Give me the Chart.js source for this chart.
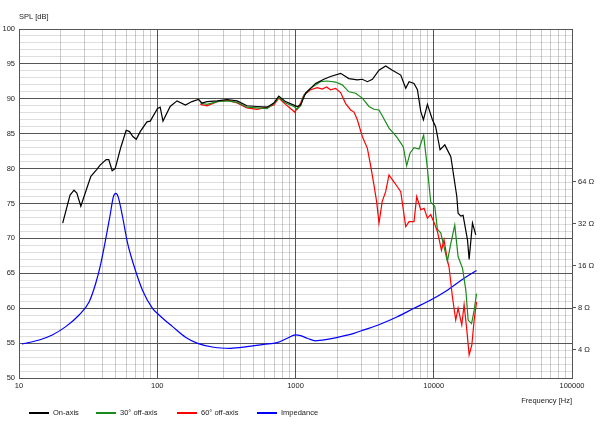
<!DOCTYPE html>
<html>
<head>
<meta charset="utf-8">
<script src="https://cdn.jsdelivr.net/npm/chart.js@4/dist/chart.umd.min.js"></script>
<style>
  html, body { margin: 0; padding: 0; background: #fff; }
  #wrap { width: 600px; height: 425px; }
</style>
</head>
<body>
<div id="wrap"><canvas id="splChart" width="600" height="425"></canvas></div>
<script>
// on-axis SPL
const onAxisFreq = [20.7, 23.4, 25, 26.2, 28, 30.6, 33.1, 36.6, 38.6, 42.7, 44.6, 47.2, 49.6, 54.6, 59.6, 63, 66.6, 70.5, 75.3, 84.2, 89, 100.5, 105, 110, 124, 139, 160, 178, 199, 210, 229, 271, 320, 378, 446, 527, 623, 697, 757, 847, 973, 1029, 1089, 1182, 1285, 1396, 1604, 1793, 2120, 2433, 2800, 3043, 3311, 3600, 4018, 4490, 5020, 5770, 6270, 6630, 7200, 7620, 8050, 8420, 9000, 9780, 10320, 11110, 12020, 13290, 14680, 15000, 15700, 16300, 17540, 18030, 19060, 20140]
const onAxisSpl = [72.2, 76.2, 76.9, 76.5, 74.6, 76.9, 78.9, 79.9, 80.5, 81.3, 81.3, 79.7, 80, 83.1, 85.5, 85.3, 84.6, 84.2, 85.3, 86.7, 86.8, 88.6, 88.8, 86.8, 88.9, 89.7, 89.1, 89.6, 89.9, 89.4, 89.6, 89.7, 89.9, 89.7, 89, 88.9, 88.8, 89.4, 90.4, 89.6, 89.1, 88.9, 89.1, 90.8, 91.5, 92.2, 92.8, 93.2, 93.65, 92.9, 92.7, 92.8, 92.45, 92.8, 94.1, 94.7, 94.1, 93.4, 91.5, 92.45, 92.2, 91.3, 88.2, 87, 89.2, 87, 86, 82.7, 83.4, 81.7, 76, 73.6, 73.2, 73.3, 69.8, 67, 72.2, 70.5]

// 30 deg off-axis SPL
const off30Freq = [205, 229, 271, 320, 378, 446, 527, 623, 697, 757, 847, 973, 1029, 1089, 1148, 1285, 1517, 1698, 1950, 2180, 2433, 2720, 3043, 3400, 3690, 4018, 4400, 4745, 5150, 5455, 6025, 6370, 6730, 7200, 7830, 8450, 9000, 9510, 10170, 10630, 11240, 12550, 13290, 14190, 15000, 16150, 17060, 17730, 18770, 19600, 20400]
const off30Spl = [89.4, 89.2, 89.6, 89.7, 89.5, 88.8, 88.7, 88.6, 89.3, 90.2, 89.4, 88.9, 88.5, 89, 90.5, 91.5, 92.45, 92.55, 92.4, 92, 91, 90.8, 90.1, 88.9, 88.5, 88.4, 87, 85.8, 85, 84.4, 83.1, 80.4, 82.2, 83, 82.8, 84.8, 80, 75.2, 74.6, 71.3, 70.8, 66.7, 69.3, 71.9, 67.4, 65.7, 62.6, 58.3, 57.8, 59.7, 62.1]

// 60 deg off-axis SPL
const off60Freq = [205, 229, 271, 320, 378, 446, 527, 623, 697, 757, 847, 920, 985, 1029, 1089, 1148, 1285, 1436, 1560, 1677, 1793, 1950, 2120, 2300, 2505, 2650, 2800, 3043, 3311, 3490, 3690, 3860, 4018, 4240, 4490, 4745, 5150, 5455, 5770, 6270, 6630, 7200, 7530, 8050, 8510, 9000, 9510, 10000, 10630, 11370, 11870, 12550, 12900, 13650, 14420, 15000, 15950, 16580, 17340, 18030, 18850, 19600, 20400]
const off60Spl = [89.2, 89, 89.6, 89.8, 89.4, 88.7, 88.5, 88.8, 89.1, 90.1, 89.2, 88.6, 88.1, 88.6, 89.4, 90.5, 91.3, 91.6, 91.4, 91.7, 91.3, 91.5, 90.9, 89.35, 88.4, 88.1, 87, 84.6, 82.9, 80.5, 77.7, 75.3, 72.2, 75.3, 76.7, 79.1, 78.1, 77.4, 76.7, 71.7, 72.4, 72.4, 76, 74.1, 74.3, 72.9, 73.4, 72.4, 71, 68.3, 69.8, 66.9, 65.9, 61.6, 58.3, 60, 57.6, 60.5, 56.9, 53.3, 54.7, 58.3, 60.9]

// impedance in ohm
const impFreq = [10.5, 14, 17.4, 21.8, 27.2, 32.2, 35.9, 39.1, 42.5, 45.4, 48.2, 50.2, 52.1, 56.1, 61, 68.1, 78.2, 92.4, 103, 129, 161, 196, 256, 338, 446, 589, 736, 871, 1000, 1087, 1215, 1396, 1698, 2120, 2645, 3125, 4130, 5455, 7200, 9510, 12550, 16580, 20400]
const impOhm = [4.4, 4.7, 5.11, 5.86, 7.1, 8.84, 11.98, 16.65, 25.2, 35.9, 50, 52.8, 50, 35.9, 23.2, 15.8, 10.7, 7.93, 7.1, 5.86, 4.9, 4.45, 4.17, 4.1, 4.21, 4.38, 4.5, 4.84, 5.11, 5.05, 4.84, 4.64, 4.75, 4.97, 5.25, 5.55, 6.12, 6.9, 7.93, 9.1, 10.7, 13, 14.8]

const seriesLabels = ["On-axis", "30° off-axis", "60° off-axis", "Impedance"]
const seriesColors = ["#000000", "#1a8a1a", "#ff0000", "#0000ff"]

const decadeTicks = [10, 100, 1000, 10000, 100000]
const ohmTicks = [4, 8, 16, 32, 64]

const majorLine = "#555555"
// translucent so the dark lines stay solid where they cross
const minorLineX = "rgba(0, 0, 0, 0.2)"
const minorLineY = "rgba(0, 0, 0, 0.13)"

function toPoints(xs, ys) {
  return xs.map((x, i) => ({ x: x, y: ys[i] }))
}

// every 1..9 x decade for the grid
const freqGrid = []
decadeTicks.forEach((d) => {
  for (let m = 1; m < 10; m++) {
    if (d * m <= 100000) freqGrid.push(d * m)
  }
})

// legend drawn under the axis, left aligned like the original
const bottomLegend = {
  id: "bottomLegend",
  afterDraw(chart) {
    const ctx = chart.ctx
    const xs = [29, 96, 177, 257]
    const y = 413
    ctx.save()
    ctx.font = "7.5px 'Liberation Sans', Arial, sans-serif"
    ctx.textBaseline = "middle"
    ctx.textAlign = "left"
    chart.data.datasets.forEach((ds, i) => {
      ctx.strokeStyle = ds.borderColor
      ctx.lineWidth = 2
      ctx.beginPath()
      ctx.moveTo(xs[i], y)
      ctx.lineTo(xs[i] + 20, y)
      ctx.stroke()
      ctx.fillStyle = "#222"
      ctx.fillText(ds.label, xs[i] + 24, y)
    })
    ctx.restore()
  },
}

Chart.defaults.font.family = "'Liberation Sans', Arial, sans-serif"
Chart.defaults.font.size = 7.5
Chart.defaults.color = "#222"

const ctx = document.getElementById("splChart").getContext("2d")
new Chart(ctx, {
  type: "line",
  data: {
    datasets: [
      {
        label: seriesLabels[0],
        data: toPoints(onAxisFreq, onAxisSpl),
        borderColor: seriesColors[0],
        borderWidth: 1.2,
        yAxisID: "y",
      },
      {
        label: seriesLabels[1],
        data: toPoints(off30Freq, off30Spl),
        borderColor: seriesColors[1],
        borderWidth: 1.2,
        yAxisID: "y",
      },
      {
        label: seriesLabels[2],
        data: toPoints(off60Freq, off60Spl),
        borderColor: seriesColors[2],
        borderWidth: 1.2,
        yAxisID: "y",
      },
      {
        label: seriesLabels[3],
        data: toPoints(impFreq, impOhm),
        borderColor: seriesColors[3],
        borderWidth: 1.2,
        cubicInterpolationMode: "monotone",
        yAxisID: "y2",
      },
    ],
  },
  options: {
    responsive: false,
    animation: false,
    events: [],
    elements: { point: { radius: 0 }, line: { tension: 0, fill: false } },
    layout: { padding: 0 },
    plugins: {
      legend: { display: false },
      tooltip: { enabled: false },
      title: {
        display: true,
        text: "SPL [dB]",
        align: "start",
        fullSize: false,
        font: { size: 7.5, weight: "normal" },
        color: "#222",
        padding: { top: 12, bottom: 8 },
      },
    },
    scales: {
      x: {
        type: "logarithmic",
        min: 10,
        max: 100000,
        afterBuildTicks: (scale) => {
          scale.ticks = freqGrid.map((v) => ({ value: v }))
        },
        afterFit: (scale) => {
          scale.height = 47
        },
        ticks: {
          autoSkip: false,
          maxRotation: 0,
          padding: 3,
          callback: (v) => (decadeTicks.includes(v) ? String(v) : ""),
        },
        grid: {
          drawTicks: false,
          color: (c) => (c.tick && decadeTicks.includes(c.tick.value) ? majorLine : minorLineX),
        },
        border: { color: majorLine },
        title: {
          display: true,
          text: "Frequency [Hz]",
          align: "end",
          font: { size: 7.5 },
          padding: { top: 4, bottom: 20 },
        },
      },
      y: {
        type: "linear",
        position: "left",
        min: 50,
        max: 100,
        afterFit: (scale) => {
          scale.width = 19
        },
        ticks: {
          stepSize: 1,
          autoSkip: false,
          padding: 4,
          callback: (v) => (v % 5 === 0 ? String(v) : ""),
        },
        grid: {
          drawTicks: false,
          color: (c) => (c.tick && c.tick.value % 5 === 0 ? majorLine : minorLineY),
        },
        border: { color: majorLine },
      },
      y2: {
        type: "logarithmic",
        position: "right",
        min: 2.512,
        max: 794.3,
        afterBuildTicks: (scale) => {
          scale.ticks = ohmTicks.map((v) => ({ value: v }))
        },
        afterFit: (scale) => {
          scale.width = 28
        },
        ticks: {
          autoSkip: false,
          padding: 2,
          callback: (v) => v + " Ω",
        },
        grid: {
          drawOnChartArea: false,
          drawTicks: true,
          tickLength: 4,
          color: majorLine,
        },
        border: { color: majorLine },
      },
    },
  },
  plugins: [bottomLegend],
})
</script>
</body>
</html>
